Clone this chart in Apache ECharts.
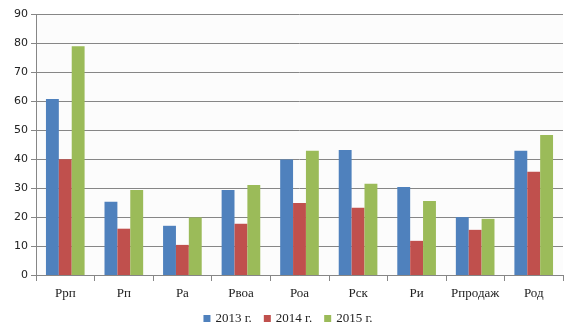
<!DOCTYPE html>
<html><head><meta charset="utf-8">
<script src="https://cdn.jsdelivr.net/npm/echarts@6/dist/echarts.min.js"></script>
<style>html,body{margin:0;padding:0;background:#fff}#c{width:576px;height:336px}</style>
</head><body><div id="c"></div>
<script>
var categories = ['Ррп','Рп','Ра','Рвоа','Роа','Рск','Ри','Рпродаж','Род'];
var seriesNames = ['2013 г.','2014 г.','2015 г.'];
var v2013 = [60.8, 25.3, 17.0, 29.4, 39.9, 43.2, 30.4, 20.0, 42.9];
var v2014 = [40.0, 16.0, 10.4, 17.7, 24.9, 23.2, 11.8, 15.6, 35.7];
var v2015 = [79.0, 29.4, 19.9, 31.1, 42.9, 31.5, 25.6, 19.4, 48.4];
var colors = ['#4F81BD','#C0504D','#9BBB59'];

var chart = echarts.init(document.getElementById('c'), null, {renderer:'canvas'});
var mk = function(name, data, i){
  return {name:name, type:'bar', data:data, barGap:'0%', barCategoryGap:'34%',
    itemStyle:{color:colors[i]}};
};
chart.setOption({
  animation:false,
  backgroundColor:'#ffffff',
  color: colors,
  grid:{left:36, right:13, top:14.5, bottom:61, containLabel:false,
        show:true, backgroundColor:'#fcfcfc', borderWidth:0},
  legend:{bottom:6, left:'center', itemWidth:7, itemHeight:7, itemGap:12,
    icon:'rect',
    textStyle:{fontFamily:'Liberation Serif', fontSize:13, color:'#222'},
    data:seriesNames},
  xAxis:{type:'category', data:categories,
    axisLine:{lineStyle:{color:'#868686', width:1}},
    axisTick:{show:true, length:6, alignWithLabel:false, lineStyle:{color:'#868686'}},
    axisLabel:{fontFamily:'Liberation Serif', fontSize:13, color:'#222', margin:12, interval:0}},
  yAxis:{type:'value', min:0, max:90, interval:10,
    axisLine:{show:true, lineStyle:{color:'#868686', width:1}},
    axisTick:{show:true, length:5, lineStyle:{color:'#868686'}},
    splitLine:{lineStyle:{color:'#868686', width:1}},
    axisLabel:{fontFamily:'DejaVu Sans', fontSize:11, color:'#222', margin:8}},
  series:[mk(seriesNames[0], v2013, 0), mk(seriesNames[1], v2014, 1), mk(seriesNames[2], v2015, 2)]
});
</script></body></html>
